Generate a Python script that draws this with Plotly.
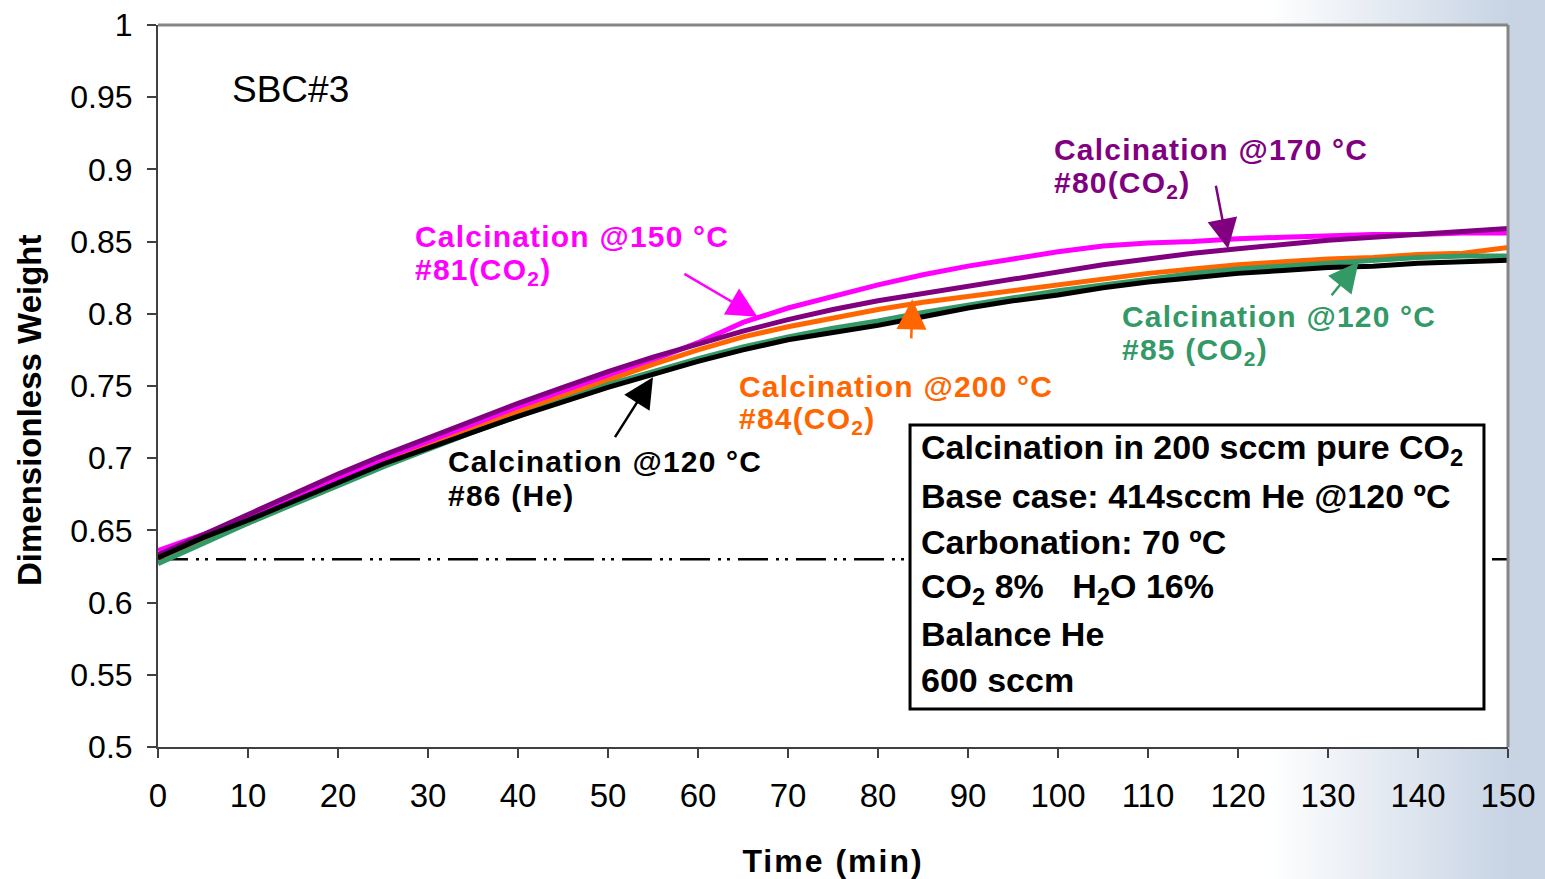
import plotly.graph_objects as go

# Time axis (min) and dimensionless weight of each run
time_min = [0, 5, 10, 15, 20, 25, 30, 35, 40, 45, 50, 55, 60, 65, 70, 75,
            80, 85, 90, 95, 100, 105, 110, 115, 120, 125, 130, 135, 140, 145, 150]

run81_150C_co2 = [0.636, 0.647, 0.659, 0.673, 0.686, 0.699, 0.711, 0.723, 0.735, 0.746,
                  0.757, 0.768, 0.780, 0.794, 0.804, 0.812, 0.820, 0.827, 0.833, 0.838,
                  0.843, 0.847, 0.849, 0.850, 0.852, 0.853, 0.854, 0.855, 0.855, 0.856, 0.856]
run80_170C_co2 = [0.633, 0.647, 0.661, 0.675, 0.689, 0.702, 0.714, 0.726, 0.738, 0.749,
                  0.760, 0.770, 0.779, 0.788, 0.796, 0.803, 0.809, 0.814, 0.819, 0.824,
                  0.829, 0.834, 0.838, 0.842, 0.845, 0.848, 0.851, 0.853, 0.855, 0.857, 0.859]
run84_200C_co2 = [0.631, 0.643, 0.655, 0.669, 0.682, 0.696, 0.708, 0.720, 0.732, 0.743,
                  0.754, 0.765, 0.775, 0.784, 0.791, 0.797, 0.803, 0.808, 0.812, 0.816,
                  0.820, 0.824, 0.828, 0.831, 0.834, 0.836, 0.838, 0.839, 0.841, 0.842, 0.846]
run85_120C_co2 = [0.627, 0.641, 0.655, 0.668, 0.681, 0.694, 0.706, 0.718, 0.729, 0.740,
                  0.751, 0.760, 0.769, 0.777, 0.784, 0.790, 0.795, 0.801, 0.806, 0.811,
                  0.816, 0.820, 0.824, 0.828, 0.831, 0.833, 0.835, 0.837, 0.839, 0.840, 0.840]
run86_120C_he = [0.631, 0.645, 0.657, 0.670, 0.683, 0.696, 0.707, 0.718, 0.729, 0.739,
                 0.749, 0.758, 0.767, 0.775, 0.782, 0.787, 0.792, 0.798, 0.804, 0.809,
                 0.813, 0.818, 0.822, 0.825, 0.828, 0.830, 0.832, 0.833, 0.835, 0.836, 0.837]

baseline_weight = 0.63
x_ticks = [0, 10, 20, 30, 40, 50, 60, 70, 80, 90, 100, 110, 120, 130, 140, 150]
y_ticks = [0.5, 0.55, 0.6, 0.65, 0.7, 0.75, 0.8, 0.85, 0.9, 0.95, 1]

FONT = "Liberation Sans, Arial, sans-serif"
MAGENTA = "#ff00ff"
PURPLE = "#800080"
ORANGE = "#ff6600"
GREEN = "#339966"
BLACK = "#000000"

fig = go.Figure()

fig.add_trace(go.Scatter(x=[time_min[0], time_min[-1]], y=[baseline_weight, baseline_weight],
                         mode="lines", line=dict(color="black", width=2.5,
                                                 dash="30px,8px,3px,6px,3px,8px"),
                         hoverinfo="skip"))

series = [
    (run81_150C_co2, MAGENTA),
    (run80_170C_co2, PURPLE),
    (run84_200C_co2, ORANGE),
    (run85_120C_co2, GREEN),
    (run86_120C_he, BLACK),
]
for ys, col in series:
    fig.add_trace(go.Scatter(x=time_min, y=ys, mode="lines",
                             line=dict(color=col, width=5)))

# Background: white page fading to steel blue at the right edge
shapes = []
n_strips = 50
x_start, x_end = 0.822, 1.0
c0 = (255, 255, 255)
c1 = (200, 212, 228)
for i in range(n_strips):
    f = (i + 0.5) / n_strips
    col = tuple(int(round(c0[k] + (c1[k] - c0[k]) * f)) for k in range(3))
    xa = x_start + (x_end - x_start) * i / n_strips
    xb = x_start + (x_end - x_start) * (i + 1) / n_strips + 0.001
    shapes.append(dict(type="rect", xref="paper", yref="paper", x0=xa, x1=xb,
                       y0=-0.3, y1=1.1, fillcolor="rgb(%d,%d,%d)" % col,
                       line=dict(width=0), layer="below"))
shapes.append(dict(type="rect", xref="paper", yref="paper", x0=0.999, x1=1.05,
                   y0=-0.3, y1=1.1, fillcolor="rgb(200,212,228)",
                   line=dict(width=0), layer="below"))
# plot area
shapes.append(dict(type="rect", xref="paper", yref="paper", x0=0, x1=1, y0=0, y1=1,
                   fillcolor="white", line=dict(width=0), layer="below"))
# top and right frame
shapes.append(dict(type="line", xref="paper", yref="paper", x0=0, x1=1, y0=1, y1=1,
                   line=dict(color="#858585", width=3)))
shapes.append(dict(type="line", xref="paper", yref="paper", x0=1, x1=1, y0=0, y1=1,
                   line=dict(color="#858585", width=3)))
# conditions box
shapes.append(dict(type="rect", xref="x", yref="y", x0=83.56, x1=147.33, y0=0.5263, y1=0.7230,
                   fillcolor="white", line=dict(color="black", width=3), layer="above"))

annotations = []

def label(x, y, text, color, size=30, bold=True, spacing=1.2):
    t = text
    if bold:
        t = "<b>" + t + "</b>"
    if spacing:
        t = '<span style="letter-spacing:%spx">%s</span>' % (spacing, t)
    annotations.append(dict(x=x, y=y, xref="x", yref="y", text=t, showarrow=False,
                            xanchor="left", yanchor="middle",
                            font=dict(family=FONT, size=size, color=color)))

def arrow(x, y, ax, ay, color, width=2.5, size=2.4):
    annotations.append(dict(x=x, y=y, xref="x", yref="y", text=" ", showarrow=True,
                            ax=ax, ay=ay, arrowhead=2, arrowsize=size, arrowwidth=width,
                            arrowcolor=color, standoff=0,
                            font=dict(family=FONT, size=4)))

label(28.3, 0.8532, "Calcination @150 °C", MAGENTA)
label(28.3, 0.8290, "#81(CO<sub>2</sub>)", MAGENTA)
label(99.3, 0.9140, "Calcination @170 °C", PURPLE)
label(99.3, 0.8898, "#80(CO<sub>2</sub>)", PURPLE)
label(64.3, 0.7500, "Calcination @200 °C", ORANGE)
label(64.3, 0.7258, "#84(CO<sub>2</sub>)", ORANGE)
label(106.9, 0.7978, "Calcination @120 °C", GREEN)
label(106.9, 0.7736, "#85 (CO<sub>2</sub>)", GREEN)
label(32.0, 0.6980, "Calcination @120 °C", BLACK)
label(32.0, 0.6745, "#86 (He)", BLACK)

arrow(66.6, 0.798, -75, -44, MAGENTA)
arrow(118.9, 0.845, -13, -67, PURPLE)
arrow(83.8, 0.810, -1, 43, ORANGE)
arrow(133.4, 0.836, -29, 36, GREEN)
arrow(55.0, 0.756, -40, 63, BLACK)

box_lines = [
    "Calcination in 200 sccm pure CO<sub>2</sub>",
    "Base case: 414sccm He @120 ºC",
    "Carbonation: 70 ºC",
    "CO<sub>2</sub> 8%&nbsp;&nbsp;&nbsp;H<sub>2</sub>O 16%",
    "Balance He",
    "600 sccm",
]
box_y = [0.7057, 0.6738, 0.6420, 0.6101, 0.5783, 0.5464]
for txt, yy in zip(box_lines, box_y):
    label(84.6, yy, txt, BLACK, size=34, spacing=0)

annotations.append(dict(x=8.0, y=0.955, xref="x", yref="y", text="SBC#3", showarrow=False,
                        xanchor="left", yanchor="middle",
                        font=dict(family=FONT, size=37, color="black")))

annotations.append(dict(x=-0.0948, y=0.4654, xref="paper", yref="paper",
                        text="<b>Dimensionless Weight</b>", textangle=-90, showarrow=False,
                        xanchor="center", yanchor="middle",
                        font=dict(family=FONT, size=33, color="black")))

fig.update_layout(
    width=1545, height=879,
    margin=dict(l=158, r=37, t=25, b=132),
    paper_bgcolor="white", plot_bgcolor="white",
    showlegend=False,
    shapes=shapes, annotations=annotations,
    font=dict(family=FONT, color="black"),
    xaxis=dict(range=[0, 150], tickvals=x_ticks, showgrid=False, zeroline=False,
               automargin=False,
               showline=True, linecolor="#404040", linewidth=2,
               ticks="outside", ticklen=9, tickwidth=2, tickcolor="#404040",
               ticklabelstandoff=9,
               tickfont=dict(family=FONT, size=33, color="black"),
               title=dict(text='<span style="letter-spacing:2px"><b>Time (min)</b></span>',
                          font=dict(family=FONT, size=32, color="black"), standoff=43)),
    yaxis=dict(range=[0.5, 1.0], tickvals=y_ticks, showgrid=False, zeroline=False,
               automargin=False,
               showline=True, linecolor="#404040", linewidth=2,
               ticks="outside", ticklen=9, tickwidth=2, tickcolor="#404040",
               ticklabelstandoff=8,
               tickfont=dict(family=FONT, size=32, color="black")),
)

fig.write_html("out.html")
